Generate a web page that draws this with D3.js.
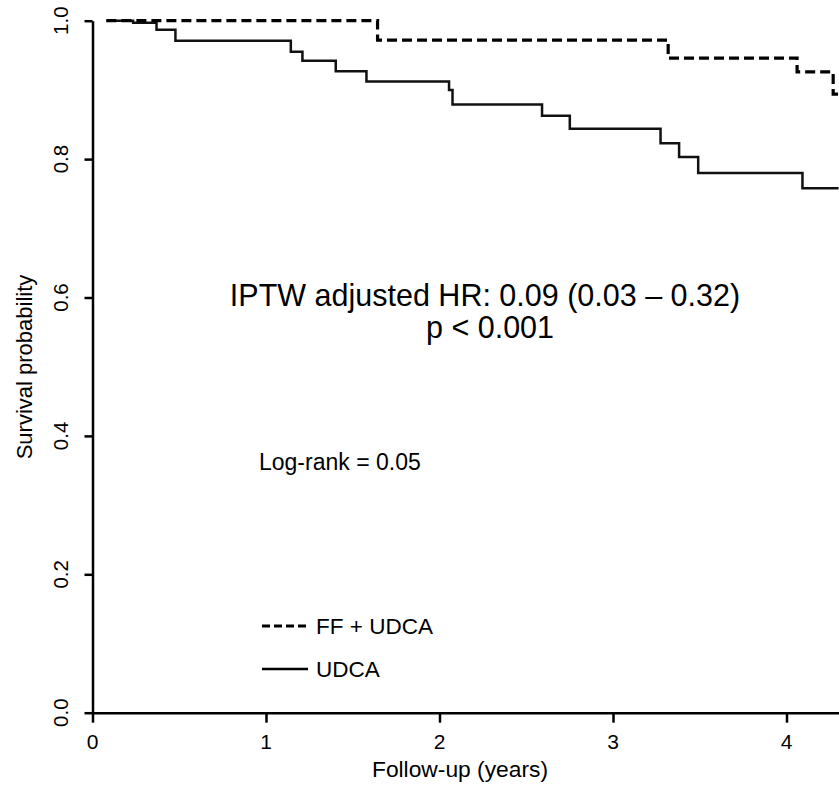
<!DOCTYPE html>
<html>
<head>
<meta charset="utf-8">
<script src="https://cdn.jsdelivr.net/npm/d3@7"></script>
<style>
  body { margin: 0; background: #fff; }
  svg text { font-family: "Liberation Sans", Arial, Helvetica, sans-serif; fill: #000; }
</style>
</head>
<body>
<script>
// Kaplan-Meier step data (time in years, survival probability)
var udcaTimes = [0.08, 0.234, 0.369, 0.478, 1.143, 1.210, 1.402, 1.579, 2.055, 2.075, 2.591, 2.751, 3.274, 3.381, 3.491, 4.092];
var udcaSurv  = [1.0, 0.997, 0.987, 0.971, 0.955, 0.942, 0.927, 0.912, 0.900, 0.879, 0.8625, 0.844, 0.823, 0.803, 0.780, 0.758];
var ffTimes = [0.08, 1.643, 3.318, 4.061, 4.269];
var ffSurv  = [1.0, 0.972, 0.946, 0.926, 0.894];
var endTime = 4.3;

var xTicks = [0, 1, 2, 3, 4];
var yTicks = [0, 0.2, 0.4, 0.6, 0.8, 1.0];
var legendLabels = ["FF + UDCA", "UDCA"];

var width = 839, height = 787;

var x = d3.scaleLinear().domain([0, endTime]).range([92.5, 92.5 + 173.5 * endTime]);
var y = d3.scaleLinear().domain([0, 1]).range([712.7, 20.7]);

var svg = d3.select("body").append("svg")
  .attr("width", width)
  .attr("height", height);

// axes
var yAxis = svg.append("g")
  .attr("transform", "translate(" + x(0) + ",0)")
  .call(d3.axisLeft(y).tickValues(yTicks).tickFormat(d3.format(".1f")).tickSize(8).tickSizeOuter(0));
yAxis.selectAll("path, line").attr("stroke", "#000").attr("stroke-width", 2.5);
yAxis.selectAll("text").remove();

var xAxis = svg.append("g")
  .attr("transform", "translate(0," + y(0) + ")")
  .call(d3.axisBottom(x).tickValues(xTicks).tickFormat(d3.format("d")).tickSize(10).tickSizeOuter(0));
xAxis.selectAll("path, line").attr("stroke", "#000").attr("stroke-width", 2.5);
xAxis.selectAll("text").remove();

// tick labels (R style: rotated on the y axis)
svg.append("g").selectAll("text")
  .data(yTicks)
  .enter().append("text")
  .attr("transform", function (d) { return "translate(68," + y(d) + ") rotate(-90)"; })
  .attr("text-anchor", "middle")
  .style("font-size", "20.5px")
  .text(d3.format(".1f"));

svg.append("g").selectAll("text")
  .data(xTicks)
  .enter().append("text")
  .attr("x", function (d) { return x(d); })
  .attr("y", 748.5)
  .attr("text-anchor", "middle")
  .style("font-size", "21px")
  .text(function (d) { return d; });

// axis titles
svg.append("text")
  .attr("transform", "translate(31.5,367) rotate(-90)")
  .attr("text-anchor", "middle")
  .style("font-size", "22px")
  .text("Survival probability");

svg.append("text")
  .attr("x", 460)
  .attr("y", 776.7)
  .attr("text-anchor", "middle")
  .style("font-size", "22.8px")
  .text("Follow-up (years)");

// survival curves
function steps(times, surv) {
  var pts = times.map(function (t, i) { return [t, surv[i]]; });
  pts.push([endTime, surv[surv.length - 1]]);
  return pts;
}
var line = d3.line()
  .x(function (d) { return x(d[0]); })
  .y(function (d) { return y(d[1]); })
  .curve(d3.curveStepAfter);

svg.append("path")
  .datum(steps(udcaTimes, udcaSurv))
  .attr("d", line)
  .attr("fill", "none")
  .attr("stroke", "#111")
  .attr("stroke-width", 2.5);

svg.append("path")
  .datum(steps(ffTimes, ffSurv))
  .attr("d", line)
  .attr("fill", "none")
  .attr("stroke", "#000")
  .attr("stroke-width", 3.2)
  .attr("stroke-dasharray", "10,5");

// annotations
svg.append("text")
  .attr("x", 485).attr("y", 306)
  .attr("text-anchor", "middle")
  .style("font-size", "30.5px")
  .text("IPTW adjusted HR: 0.09 (0.03 \u2013 0.32)");
svg.append("text")
  .attr("x", 490).attr("y", 338.3)
  .attr("text-anchor", "middle")
  .style("font-size", "30.5px")
  .text("p < 0.001");

svg.append("text")
  .attr("x", 259).attr("y", 470)
  .style("font-size", "23px")
  .text("Log-rank = 0.05");

// legend
var legend = svg.append("g").selectAll("g")
  .data(legendLabels)
  .enter().append("g")
  .attr("transform", function (d, i) { return "translate(0," + (626 + i * 43) + ")"; });
legend.append("line")
  .attr("x1", 262).attr("x2", 308)
  .attr("stroke", "#000")
  .attr("stroke-width", function (d, i) { return i == 0 ? 3.2 : 2.5; })
  .attr("stroke-dasharray", function (d, i) { return i == 0 ? "8,4" : null; });
legend.append("text")
  .attr("x", 316).attr("y", 7.5)
  .style("font-size", "22.5px")
  .text(function (d) { return d; });
</script>
</body>
</html>
